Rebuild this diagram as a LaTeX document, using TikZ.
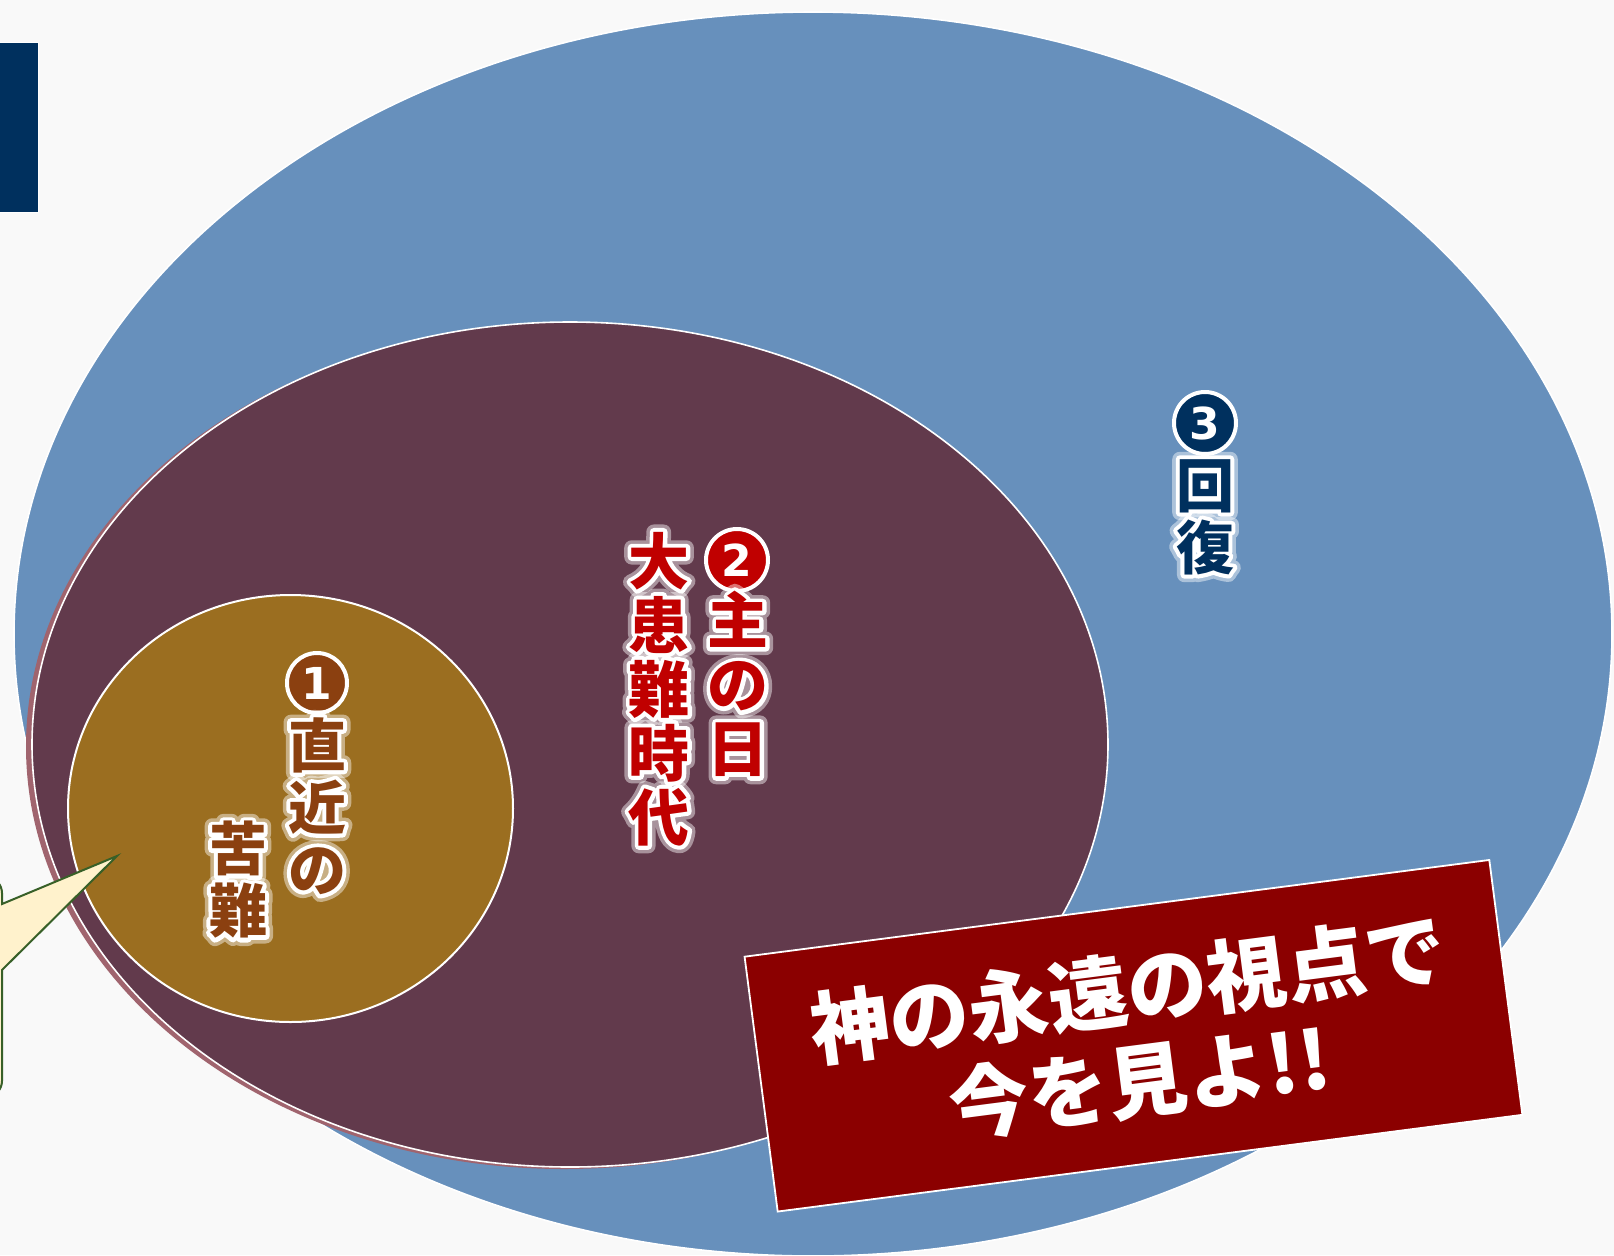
\documentclass[tikz,border=0pt]{standalone}
\usepackage{fontspec}
\newfontfamily\cjk{Noto Sans CJK JP}
\newfontfamily\dejavu{DejaVu Sans}
\definecolor{bgc}{RGB}{249,249,249}
\definecolor{bluec}{RGB}{103,144,188}
\definecolor{purplec}{RGB}{98,58,76}
\definecolor{shadowc}{RGB}{160,100,110}
\definecolor{goldc}{RGB}{155,110,32}
\definecolor{navyc}{RGB}{0,48,94}
\definecolor{brownc}{RGB}{139,64,16}
\definecolor{redc}{RGB}{192,0,0}
\definecolor{boxc}{RGB}{139,0,0}
\definecolor{creamc}{RGB}{255,242,204}
\definecolor{greenc}{RGB}{56,96,40}
\newcommand\glowon[1]{\special{pdf:literal direct 1 Tr #1 w 1 j 1 1 1 RG}}
\newcommand\glowoff{\special{pdf:literal direct 0 Tr}}
\tikzset{
  lab/.style={align=center, inner sep=0pt, font=\cjk\bfseries\fontsize{29}{31}\selectfont},
  labbig/.style={align=center, inner sep=0pt, font=\cjk\bfseries\fontsize{30.5}{32}\selectfont},
  numdot/.style={circle, minimum size=#1, inner sep=0pt, draw=white, line width=2pt,
    text=white, font=\dejavu\bfseries\fontsize{22}{22}\selectfont},
  callout/.style={fill=creamc, draw=greenc, line width=1pt, line join=miter},
  banner/.style={rotate=7.4, minimum width=375.5pt, minimum height=128.5pt, fill=boxc,
    draw=white, line width=0.9pt, inner sep=0pt, align=center, text=white,
    font=\cjk\bfseries\fontsize{40}{46.5}\selectfont}
}
\newcommand\glowlabel[5]{%
  \node[#1,text=white,opacity=0.45] (#2-halo) at #3 {\glowon{7.5}#5\glowoff};
  \node[#1,text=white] (#2-glow) at #3 {\glowon{4}#5\glowoff};
  \node[#1,text=#4] (#2) at #3 {#5};
}
\begin{document}
\begin{tikzpicture}[x=0.5pt,y=-0.5pt]
\useasboundingbox (0,0) rectangle (1614,1255);
\fill[bgc] (0,0) rectangle (1614,1255);
% outer ellipse (3)
\draw[fill=bluec, draw=white, line width=0.8pt] (813,634) ellipse [x radius=399.5pt, y radius=311pt];
% middle ellipse (2) with shadow
\fill[shadowc] (564,746.5) ellipse [x radius=269pt, y radius=211.25pt];
\draw[fill=purplec, draw=white, line width=0.8pt] (570,744.5) ellipse [x radius=269pt, y radius=211.25pt];
% inner ellipse (1)
\draw[fill=goldc, draw=white, line width=1pt] (290.5,808.5) ellipse [x radius=111.25pt, y radius=106.75pt];
% labels
\node[numdot=30pt, fill=brownc] (n1) at (317,683) {1};
\glowlabel{lab}{l1a}{(317,806)}{brownc}{直\\近\\の}
\glowlabel{lab}{l1b}{(238,880)}{brownc}{苦\\難}
\node[numdot=31pt, fill=redc] (n2) at (737,560) {2};
\glowlabel{labbig}{l2a}{(738,684)}{redc}{主\\の\\日}
\glowlabel{labbig}{l2b}{(659,689)}{redc}{大\\患\\難\\時\\代}
\node[numdot=31pt, fill=navyc] (n3) at (1205,423) {3};
\glowlabel{lab}{l3}{(1205,517)}{navyc}{回\\復}
% callout
\draw[callout] (-80,877) [rounded corners=8pt] -- (2,877) [sharp corners] -- (2,904) -- (117,856) -- (2,970) [rounded corners=8pt] -- (2,1097) [sharp corners] -- (-80,1097) -- cycle;
% banner
\node[banner] (msg) at (1133.5,1035.75) {神の永遠の視点で\\今を見よ!!};
% navy bar
\draw[fill=navyc, draw=white, line width=0.5pt] (-5,42) rectangle (38,212);
\end{tikzpicture}
\end{document}
